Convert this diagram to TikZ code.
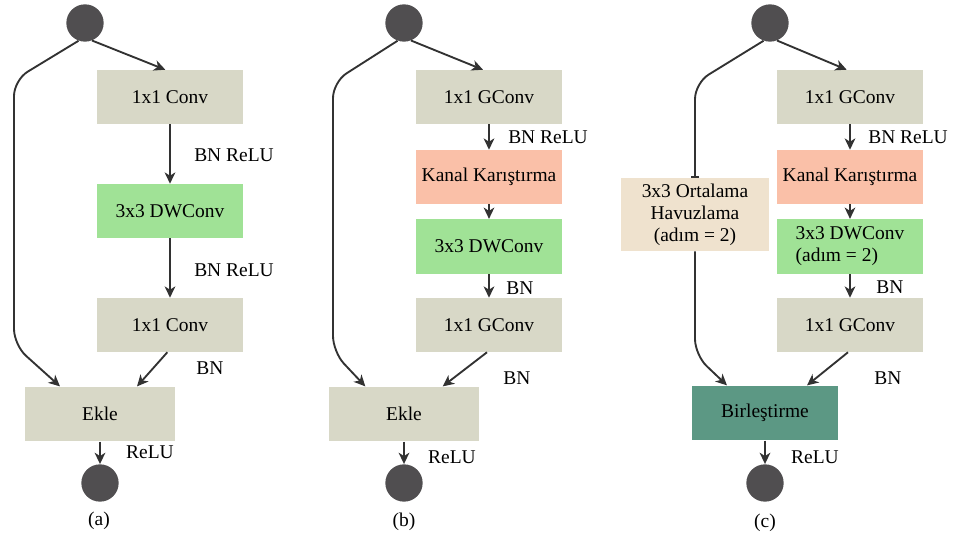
\documentclass[tikz,border=0pt]{standalone}
\usepackage{fontspec}
\setmainfont{Liberation Serif}
\usetikzlibrary{arrows.meta,positioning,calc}
\definecolor{blockgray}{RGB}{216,216,199}
\definecolor{blockgreen}{RGB}{160,226,150}
\definecolor{blocksalmon}{RGB}{250,192,168}
\definecolor{blockbeige}{RGB}{239,226,206}
\definecolor{blockteal}{RGB}{92,152,132}
\definecolor{dotgray}{RGB}{80,78,80}
\definecolor{linegray}{RGB}{50,50,50}

\begin{document}
\begin{tikzpicture}[x=0.75pt,y=-0.75pt,>={Stealth[length=8.5pt,width=8pt,inset=2.5pt]},
  font=\fontsize{14.6}{16.5}\selectfont,
  blk/.style={minimum width=110pt,minimum height=40.5pt,inner sep=0pt,align=center},
  dot/.style={circle,fill=dotgray,minimum size=28pt,inner sep=0pt},
  lnk/.style={->,line width=1.4pt,draw=linegray},
  skip/.style={line width=1.4pt,draw=linegray,rounded corners=12pt},
  lbl/.style={inner sep=0pt}]
\useasboundingbox (0,0) rectangle (953,538);
% (a)
\node[dot] (inA) at (85,23) {};
\node[blk,fill=blockgray,minimum width=109pt] (convA1) at (170,97) {1x1 Conv};
\node[blk,fill=blockgreen,minimum width=109pt] (dwA) at (170,211) {3x3 DWConv};
\node[blk,fill=blockgray,minimum width=109pt] (convA2) at (170,325) {1x1 Conv};
\node[blk,fill=blockgray,minimum width=112pt,minimum height=41pt] (ekleA) at (100,414) {Ekle};
\node[dot] (outA) at (100,483) {};
\node[lbl] (lblA1) at (234,155) {BN ReLU};\node[lbl] (lblA2) at (234,270) {BN ReLU};
\node[lbl] (lblA3) at (210,368) {BN};\node[lbl] (lblA4) at (150,452) {ReLU};
\node[lbl] (capA) at (99,521) {(a)};
\draw[lnk] (inA.292) -- ([xshift=-3.5pt]convA1.north);
\draw[lnk] (convA1) -- (dwA);
\draw[lnk] (dwA) -- (convA2);
\draw[lnk] ([xshift=-2pt]convA2.south) -- ([xshift=27.75pt]ekleA.north);
\draw[skip,->] (inA.250) -- (14,80) -- (14,345) -- ([xshift=-30pt]ekleA.north);
\draw[lnk] (ekleA) -- (outA);
% (b)
\node[dot] (inB) at (404,23) {};
\node[blk,fill=blockgray] (gconvB1) at (489,97) {1x1 GConv};
\node[blk,fill=blocksalmon] (kanalB) at (489,177) {Kanal Karıştırma};
\node[blk,fill=blockgreen,minimum height=41pt] (dwB) at (489,246.5) {3x3 DWConv};
\node[blk,fill=blockgray] (gconvB2) at (489,325) {1x1 GConv};
\node[blk,fill=blockgray,minimum width=112pt,minimum height=41pt] (ekleB) at (404,414) {Ekle};
\node[dot] (outB) at (404,483) {};
\node[lbl] (lblB1) at (548,137) {BN ReLU};\node[lbl] (lblB2) at (520,288) {BN};
\node[lbl] (lblB3) at (517,378) {BN};\node[lbl] (lblB4) at (452,457) {ReLU};
\node[lbl] (capB) at (404,522) {(b)};
\draw[lnk] (inB.292) -- ([xshift=-4.5pt]gconvB1.north);
\draw[lnk] (gconvB1) -- (kanalB);
\draw[lnk] (kanalB) -- (dwB);
\draw[lnk] (dwB) -- (gconvB2);
\draw[lnk] ([xshift=-1.5pt]gconvB2.south) -- ([xshift=29pt]ekleB.north);
\draw[skip,->] (inB.250) -- (333,82) -- (333,352) -- ([xshift=-29pt]ekleB.north);
\draw[lnk] (ekleB) -- (outB);
% (c)
\node[dot] (inC) at (770,23) {};
\node[blk,fill=blockgray] (gconvC1) at (850,97) {1x1 GConv};
\node[blk,fill=blocksalmon] (kanalC) at (850,177) {Kanal Karıştırma};
\node[blk,fill=blockgreen,minimum height=41pt,minimum width=109pt,align=left] (dwC) at (850,246.5) {3x3 DWConv\\(adım = 2)};
\node[blk,fill=blockgray] (gconvC2) at (850,325) {1x1 GConv};
\node[blk,fill=blockbeige,minimum width=111pt,minimum height=55pt] (havuzC) at (695,214.5) {3x3 Ortalama\\Havuzlama\\(adım = 2)};
\node[blk,fill=blockteal,minimum width=109pt,minimum height=41pt] (birC) at (765,413) {Birleştirme};
\node[dot] (outC) at (765,483) {};
\node[lbl] (lblC1) at (908,137) {BN ReLU};\node[lbl] (lblC2) at (890,287) {BN};
\node[lbl] (lblC3) at (888,378) {BN};\node[lbl] (lblC4) at (815,457) {ReLU};
\node[lbl] (capC) at (765,523) {(c)};
\draw[lnk] (inC.292) -- ([xshift=-2.5pt]gconvC1.north);
\draw[lnk] (gconvC1) -- (kanalC);
\draw[lnk] (kanalC) -- (dwC);
\draw[lnk] (dwC) -- (gconvC2);
\draw[lnk] ([xshift=-1.5pt]gconvC2.south) -- ([xshift=31.5pt]birC.north);
\draw[skip,-{Bar[width=6pt]}] (inC.250) -- (695,83) -- (havuzC.north);
\draw[skip,->] (havuzC.south) -- (695,355) -- ([xshift=-28.5pt]birC.north);
\draw[lnk] (birC) -- (outC);
\end{tikzpicture}
\end{document}
